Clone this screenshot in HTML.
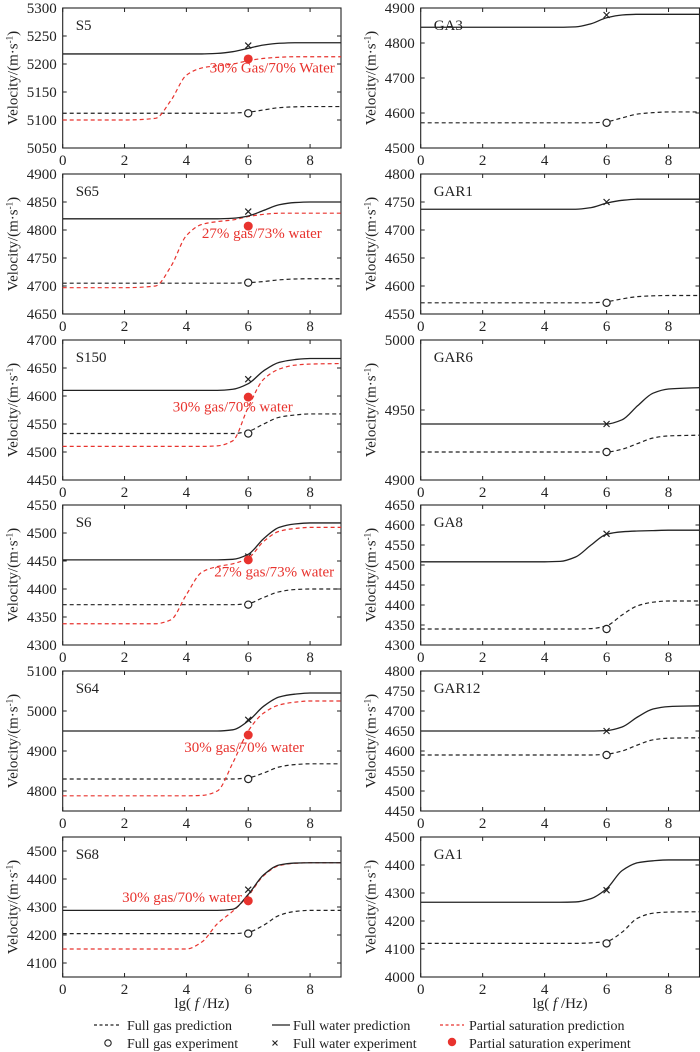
<!DOCTYPE html>
<html><head><meta charset="utf-8"><style>
html,body{margin:0;padding:0;background:#fff;}
svg{display:block;font-family:"Liberation Serif",serif;}
</style></head><body>
<svg id="chart" width="700" height="1052" viewBox="0 0 700 1052" xmlns="http://www.w3.org/2000/svg"></svg>
<script>
// shared frequency samples lg(f/Hz)
const xs = [0,2,3,3.5,4,4.5,5,5.5,6,6.5,7,7.5,8,9];
const xTicks = [0,2,4,6,8];
// panel metadata
const panelNames = ["S5","S65","S150","S6","S64","S68","GA3","GAR1","GAR6","GA8","GAR12","GA1"];
const yMins = [5050,4650,4450,4300,4750,4050,4500,4550,4900,4300,4450,4000];
const yMaxs = [5300,4900,4700,4550,5100,4550,4900,4800,5000,4650,4800,4500];
const yTickStart = [5050,4650,4450,4300,4800,4100,4500,4550,4900,4300,4450,4000];
const yTickStep = [50,50,50,50,100,100,100,50,50,50,50,100];
// full water prediction
const water = [
 [5218,5218,5218,5218,5218,5218,5219,5222,5228,5234,5237,5238,5238,5238],
 [4820,4820,4820,4820,4820,4820,4820,4821,4825,4835,4845,4849,4850,4850],
 [4610,4610,4610,4610,4610,4610,4610,4612,4622,4645,4660,4665,4667,4667],
 [4452,4452,4452,4452,4452,4452,4452,4453,4462,4490,4510,4516,4518,4518],
 [4950,4950,4950,4950,4950,4950,4950,4953,4975,5012,5035,5042,5045,5045],
 [4288,4288,4288,4288,4288,4288,4288,4292,4345,4415,4450,4457,4458,4458],
 [4845,4845,4845,4845,4845,4845,4846,4855,4872,4880,4882,4882,4882,4882],
 [4737,4737,4737,4737,4737,4737,4737,4740,4748,4753,4755,4755,4755,4755],
 [4940,4940,4940,4940,4940,4940,4940,4940,4940,4943,4953,4962,4965,4966],
 [4508,4508,4508,4508,4508,4509,4520,4550,4577,4583,4585,4586,4587,4587],
 [4650,4650,4650,4650,4650,4650,4650,4650,4651,4660,4685,4705,4711,4713],
 [4267,4267,4267,4267,4267,4267,4268,4280,4315,4380,4408,4415,4418,4418]
];
// full gas prediction
const gas = [
 [5112,5112,5112,5112,5112,5112,5112,5112.5,5114,5118,5122,5123.5,5124,5124],
 [4705,4705,4705,4705,4705,4705,4705,4705,4706,4708,4711,4712.5,4713,4713],
 [4533,4533,4533,4533,4533,4533,4533,4533,4537,4550,4562,4566,4568,4568],
 [4372,4372,4372,4372,4372,4372,4372,4372,4374,4385,4395,4399,4400,4400],
 [4830,4830,4830,4830,4830,4830,4830,4830,4833,4845,4860,4866,4868,4868],
 [4205,4205,4205,4205,4205,4205,4205,4205,4210,4235,4270,4284,4288,4288],
 [4572,4572,4572,4572,4572,4572,4572,4572,4575,4586,4597,4601,4603,4603],
 [4570,4570,4570,4570,4570,4570,4570,4570,4572,4577,4581,4582.5,4583,4583],
 [4920,4920,4920,4920,4920,4920,4920,4920,4920,4922,4926,4930,4931.5,4932],
 [4340,4340,4340,4340,4340,4340,4340,4341,4348,4375,4398,4407,4410,4410],
 [4590,4590,4590,4590,4590,4590,4590,4590,4592,4600,4615,4628,4632,4633],
 [4120,4120,4120,4120,4120,4120,4120,4122,4127,4160,4210,4228,4232,4233]
];
// partial saturation prediction (left column only)
const partial = [
 [5100,5100,5103,5135,5180,5193,5197,5200,5206,5210,5212,5213,5213,5213],
 [4697,4697,4700,4735,4790,4810,4815,4818,4824,4828,4830,4830,4830,4830],
 [4510,4510,4510,4510,4510,4510,4511,4520,4580,4630,4648,4655,4657,4658],
 [4338,4338,4338,4345,4390,4430,4440,4445,4455,4485,4503,4508,4510,4510],
 [4788,4788,4788,4788,4788,4789,4800,4870,4950,4995,5015,5022,5025,5025],
 [4150,4150,4150,4150,4150,4175,4240,4285,4340,4412,4448,4456,4458,4458]
];
// experiments at lg f = 6
const expX = 6;
const waterExp = [5233,4833,4630,4458,4978,4362,4880,4750,4940,4578,4650,4310];
const gasExp = [5112,4706,4533,4372,4830,4205,4572,4570,4920,4340,4590,4120];
const partialExp = [5209,4807,4598,4452,4940,4322];
const annoText = ["30% Gas/70% Water","27% gas/73% water","30% gas/70% water","27% gas/73% water","30% gas/70% water","30% gas/70% water"];
const annoX = [4.75,4.5,5.5,4.9,3.93,1.92];
const annoY = [5185,4786,4572,4422,4898,4318];
const annoAnchor = ["start","start","middle","start","start","start"];

const NS="http://www.w3.org/2000/svg";
const svg=document.getElementById('chart');
function mk(tag,attrs,parent){const e=document.createElementNS(NS,tag);for(const k in attrs)e.setAttribute(k,attrs[k]);(parent||svg).appendChild(e);return e;}

const PH=140, TOPS=[8,174,340,505,671,837];
// monotone cubic (Fritsch-Carlson) path
function pathFrom(pts){
  const n=pts.length, d=[], m=[];
  for(let i=0;i<n-1;i++) d.push((pts[i+1][1]-pts[i][1])/(pts[i+1][0]-pts[i][0]));
  m[0]=d[0]; m[n-1]=d[n-2];
  for(let i=1;i<n-1;i++){
    if(d[i-1]*d[i]<=0) m[i]=0;
    else { const h0=pts[i][0]-pts[i-1][0], h1=pts[i+1][0]-pts[i][0];
      const w1=2*h1+h0, w2=h1+2*h0; m[i]=(w1+w2)/(w1/d[i-1]+w2/d[i]); }
  }
  let s="M"+pts[0][0].toFixed(2)+","+pts[0][1].toFixed(2);
  for(let i=0;i<n-1;i++){
    const h=(pts[i+1][0]-pts[i][0])/3;
    s+=" C"+(pts[i][0]+h).toFixed(2)+","+(pts[i][1]+m[i]*h).toFixed(2)+" "+(pts[i+1][0]-h).toFixed(2)+","+(pts[i+1][1]-m[i+1]*h).toFixed(2)+" "+pts[i+1][0].toFixed(2)+","+pts[i+1][1].toFixed(2);
  }
  return s;
}

for(let p=0;p<12;p++){
  const col=p<6?0:1, row=p%6;
  const x0=col?420.7:62.7, x1=col?699.5:341, y0=TOPS[row], y1=y0+PH;
  const sx=v=>x0+(v-0)/(9-0)*(x1-x0);
  const sy=v=>y1-(v-yMins[p])/(yMaxs[p]-yMins[p])*(y1-y0);
  const g=mk('g',{});
  
  
  const fr=mk('rect',{x:x0,y:y0,width:x1-x0,height:PH,fill:'none',stroke:'#222','stroke-width':1.1},g);
  
  
  xTicks.forEach(t=>{
    const X=sx(t);
    mk('line',{x1:X,x2:X,y1:y1,y2:y1-4,stroke:'#222','stroke-width':1},g);
    mk('line',{x1:X,x2:X,y1:y0,y2:y0+4,stroke:'#222','stroke-width':1},g);
    const tl=mk('text',{x:X,y:y1+17,'text-anchor':'middle','font-size':15,fill:'#222'},g);
    tl.textContent=t;
    
    
  });
  for(let v=yTickStart[p];v<=yMaxs[p]+0.01;v+=yTickStep[p]){
    const Y=sy(v);
    mk('line',{x1:x0,x2:x0+4,y1:Y,y2:Y,stroke:'#222','stroke-width':1},g);
    mk('line',{x1:x1,x2:x1-4,y1:Y,y2:Y,stroke:'#222','stroke-width':1},g);
    const yl=mk('text',{x:x0-6,y:Y+5,'text-anchor':'end','font-size':15,fill:'#222'},g);
    yl.textContent=v;
    
    
  }
  const yt=mk('text',{transform:`translate(${x0-45},${y0+PH/2}) rotate(-90)`,'text-anchor':'middle','font-size':15,fill:'#222'},g);
  yt.innerHTML='Velocity/(m·s<tspan dy="-5" font-size="9">-1</tspan><tspan dy="5">)</tspan>';
  
  
  const nm=mk('text',{x:x0+13,y:y0+22,'font-size':15,fill:'#222'},g);
  nm.textContent=panelNames[p];
  
  
  const gp=mk('path',{d:pathFrom(xs.map((x,i)=>[sx(x),sy(gas[p][i])])),fill:'none',stroke:'#222','stroke-width':1.2,'stroke-dasharray':'4,3'},g);
  
  
  if(p<6){
    const pp=mk('path',{d:pathFrom(xs.map((x,i)=>[sx(x),sy(partial[p][i])])),fill:'none',stroke:'#e8332e','stroke-width':1.2,'stroke-dasharray':'4,3'},g);
    
    
  }
  const wp=mk('path',{d:pathFrom(xs.map((x,i)=>[sx(x),sy(water[p][i])])),fill:'none',stroke:'#222','stroke-width':1.3},g);
  
  
  const ex=sx(expX);
  const gc=mk('circle',{cx:ex,cy:sy(gasExp[p]),r:3.6,fill:'#fff',stroke:'#222','stroke-width':1.2},g);
  
  
  const wy=sy(waterExp[p]);
  const wx=mk('path',{d:`M${ex-3},${wy-3}L${ex+3},${wy+3}M${ex-3},${wy+3}L${ex+3},${wy-3}`,stroke:'#222','stroke-width':1.2},g);
  
  
  if(p<6){
    const pc=mk('circle',{cx:ex,cy:sy(partialExp[p]),r:4.5,fill:'#e8332e'},g);
    
    
    const at=mk('text',{x:sx(annoX[p]),y:sy(annoY[p]),'text-anchor':annoAnchor[p],'font-size':15,fill:'#e8332e'},g);
    at.textContent=annoText[p];
    
    
  }
  if(row===5){
    const xt=mk('text',{x:(x0+x1)/2,y:1008,'text-anchor':'middle','font-size':15,fill:'#222'},g);
    xt.innerHTML='lg( <tspan font-style="italic">f</tspan> /Hz)';
    
    
  }
}
const lg=mk('g',{'font-size':14,fill:'#222'});


function legText(x,y,t,name){const e=mk('text',{x:x,y:y+5},lg);e.textContent=t;}
mk('line',{x1:94,x2:120,y1:1025,y2:1025,stroke:'#222','stroke-width':1.2,'stroke-dasharray':'3,2.5'},lg);
legText(127,1025,'Full gas prediction','legend-full-gas-prediction');
mk('line',{x1:272,x2:290,y1:1025,y2:1025,stroke:'#222','stroke-width':1.3},lg);
legText(293,1025,'Full water prediction','legend-full-water-prediction');
mk('line',{x1:440,x2:464,y1:1025,y2:1025,stroke:'#e8332e','stroke-width':1.2,'stroke-dasharray':'3,2.5'},lg);
legText(469,1025,'Partial saturation prediction','legend-partial-saturation-prediction');
mk('circle',{cx:108,cy:1043,r:3.2,fill:'#fff',stroke:'#222','stroke-width':1.1},lg);
legText(127,1043,'Full gas experiment','legend-full-gas-experiment');
mk('path',{d:'M272.5,1040.5L277.5,1045.5M272.5,1045.5L277.5,1040.5',stroke:'#222','stroke-width':1.1},lg);
legText(293,1043,'Full water experiment','legend-full-water-experiment');
mk('circle',{cx:452,cy:1042,r:4.2,fill:'#e8332e'},lg);
legText(469,1043,'Partial saturation experiment','legend-partial-saturation-experiment');
</script>
</body></html>
